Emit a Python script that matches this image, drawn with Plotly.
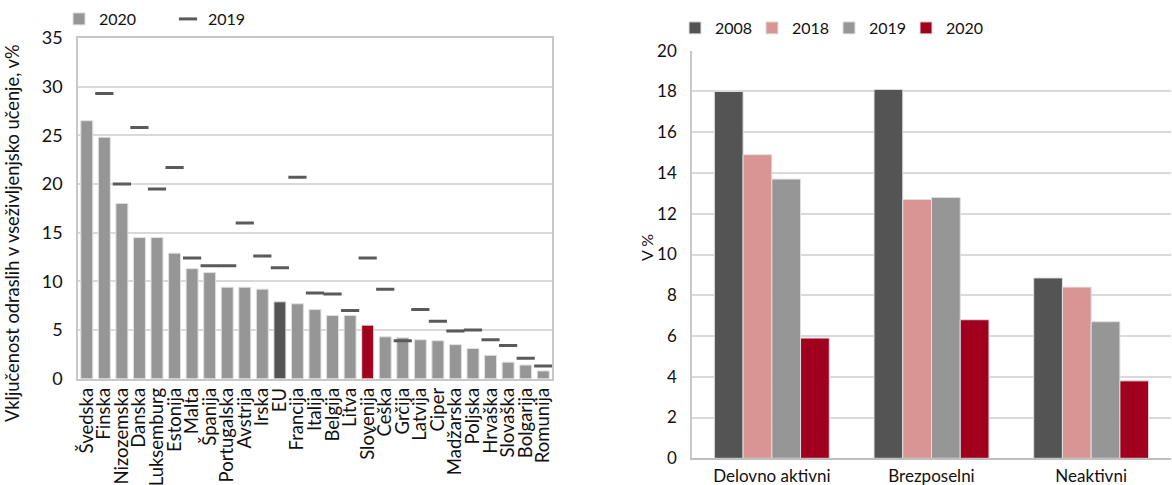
import plotly.graph_objects as go

# ---- Left chart data ----
countries = ["Švedska", "Finska", "Nizozemska", "Danska", "Luksemburg", "Estonija", "Malta",
             "Španija", "Portugalska", "Avstrija", "Irska", "EU", "Francija", "Italija",
             "Belgija", "Litva", "Slovenija", "Češka", "Grčija", "Latvija", "Ciper",
             "Madžarska", "Poljska", "Hrvaška", "Slovaška", "Bolgarija", "Romunija"]
v2020 = [26.5, 24.8, 18.0, 14.5, 14.5, 12.9, 11.3, 10.9, 9.4, 9.4, 9.2, 7.9, 7.7, 7.1,
         6.5, 6.5, 5.5, 4.3, 4.2, 4.0, 3.9, 3.5, 3.1, 2.4, 1.7, 1.4, 0.8]
v2019 = [None, 29.3, 20.0, 25.8, 19.5, 21.7, 12.4, 11.6, 11.6, 16.0, 12.6, 11.4, 20.7, 8.8,
         8.7, 7.0, 12.4, 9.2, 3.9, 7.1, 5.9, 4.9, 5.0, 4.0, 3.4, 2.1, 1.3]

# ---- Right chart data ----
groups = ["Delovno aktivni", "Brezposelni", "Neaktivni"]
r2008 = [18.0, 18.1, 8.85]
r2018 = [14.9, 12.7, 8.4]
r2019 = [13.7, 12.8, 6.7]
r2020 = [5.9, 6.8, 3.8]

left_title = "Vključenost odraslih v vseživljenjsko učenje, v%"
right_title = "V %"

GRAY = "#969696"
DARK = "#545454"
PINK = "#d99594"
RED = "#a0001e"
FONT = "Lato"

bar_colors = [DARK if c == "EU" else RED if c == "Slovenija" else GRAY for c in countries]

fig = go.Figure()
fig.add_trace(go.Bar(x=countries, y=v2020, name="2020", marker=dict(color=bar_colors,
              line=dict(color="#e0e0e0", width=1)), width=0.68,
              xaxis="x", yaxis="y", legend="legend"))
fig.add_trace(go.Scatter(x=countries, y=v2019, name="2019", mode="markers",
              marker=dict(symbol="line-ew", size=13, color="#5a5a5a",
                          line=dict(color="#5a5a5a", width=3)),
              xaxis="x", yaxis="y", legend="legend"))

for name, vals, col in [("2008", r2008, DARK), ("2018", r2018, PINK),
                        ("2019", r2019, GRAY), ("2020", r2020, RED)]:
    fig.add_trace(go.Bar(x=groups, y=vals, name=name, marker=dict(color=col,
                  line=dict(color="#e0e0e0", width=1)),
                  xaxis="x2", yaxis="y2", legend="legend2"))

W, H = 1172, 485
def px_x(p): return p / W
def px_y(p): return 1 - p / H

fig.update_layout(
    width=W, height=H, margin=dict(l=0, r=0, t=0, b=0),
    paper_bgcolor="white", plot_bgcolor="white",
    font=dict(family=FONT, size=16, color="#111111"),
    barmode="group", bargap=0.28, bargroupgap=0,
    showlegend=True,
    xaxis=dict(domain=[px_x(78), px_x(552)], anchor="y", tickangle=-90,
               tickmode="linear", dtick=1, range=[-0.5, len(countries) - 0.5],
               showline=True, mirror=True, linecolor="#c8c8c8", linewidth=1.5,
               ticks="", automargin=False, tickfont=dict(size=18.5)),
    yaxis=dict(domain=[px_y(378.7), px_y(38)], anchor="x", range=[0, 35], dtick=5,
               showgrid=True, gridcolor="#d9d9d9", gridwidth=1.5,
               showline=True, mirror=True, linecolor="#c8c8c8", linewidth=1.5,
               ticks="", automargin=False, zeroline=False, ticklabelstandoff=10,
               tickfont=dict(size=18)),
    xaxis2=dict(domain=[px_x(692), px_x(1171)], anchor="y2",
                showline=True, linecolor="#bfbfbf", linewidth=2, ticks="",
                automargin=False, tickfont=dict(size=17), ticklabelstandoff=1),
    yaxis2=dict(domain=[px_y(458.3), px_y(50.7)], anchor="x2", range=[0, 20], dtick=2,
                showgrid=True, gridcolor="#d9d9d9", gridwidth=1.5,
                showline=True, linecolor="#c8c8c8", linewidth=1.5, ticks="",
                automargin=False, zeroline=False, ticklabelstandoff=10,
                tickfont=dict(size=17)),
    legend=dict(orientation="h", x=px_x(59), y=px_y(2), xanchor="left", yanchor="top",
                entrywidth=64, entrywidthmode="pixels", font=dict(size=16),
                bgcolor="rgba(0,0,0,0)", itemclick=False),
    legend2=dict(orientation="h", x=px_x(675), y=px_y(11), xanchor="left", yanchor="top",
                 entrywidth=32, entrywidthmode="pixels", font=dict(size=16),
                 bgcolor="rgba(0,0,0,0)", itemclick=False),
    annotations=[
        dict(text=left_title, textangle=-90, xref="paper", yref="paper",
             x=px_x(12), y=px_y(233), xanchor="center", yanchor="middle",
             showarrow=False, font=dict(size=18.3)),
        dict(text=right_title, textangle=-90, xref="paper", yref="paper",
             x=px_x(647), y=px_y(248), xanchor="center", yanchor="middle",
             showarrow=False, font=dict(size=16)),
    ],
)

fig.write_html("out.html", config={"displayModeBar": False},
               post_script="document.body.style.margin='0';")
